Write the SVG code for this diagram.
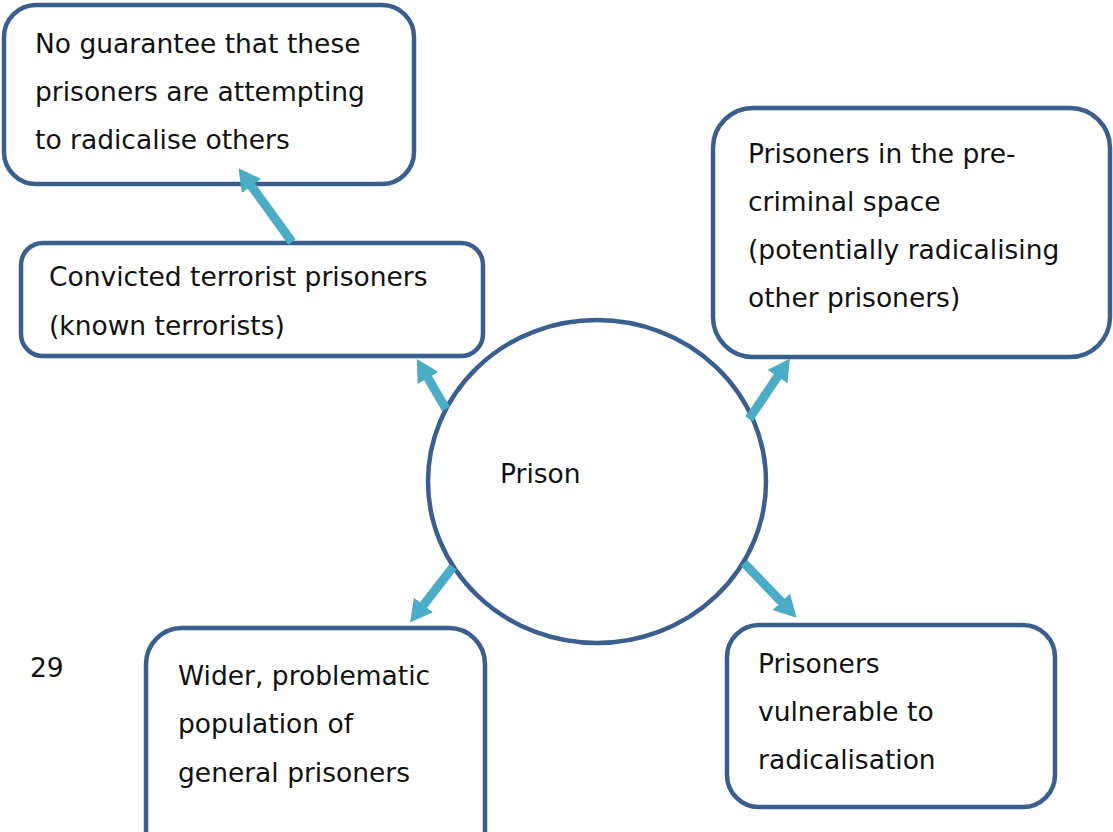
<svg xmlns="http://www.w3.org/2000/svg" width="1113" height="832" viewBox="0 0 1113 832">
<style>
.box{fill:#fff;stroke:#3A5F8F;stroke-width:4.5}
.lbl{font-family:"DejaVu Sans","Verdana",sans-serif;font-size:26.5px;fill:#111}
.arr{stroke:#4BACC6;stroke-width:9;fill:none;marker-end:url(#head)}
</style>
<defs>
<marker id="head" markerUnits="userSpaceOnUse" viewBox="0 0 22 24" refX="0.5" refY="12" markerWidth="22" markerHeight="24" orient="auto">
<path d="M0,0 L22,12 L0,24 z" fill="#4BACC6"/>
</marker>
</defs>
<rect width="1113" height="832" fill="#fff"/>
<g id="prison">
<ellipse class="box" cx="597" cy="481.5" rx="169" ry="161.5"/>
<text class="lbl" x="500" y="483">Prison</text>
</g>
<g id="n-guarantee">
<rect class="box" x="4" y="5" width="410" height="179" rx="32"/>
<text class="lbl" x="35" y="53">No guarantee that these</text>
<text class="lbl" x="35" y="101">prisoners are attempting</text>
<text class="lbl" x="35" y="149">to radicalise others</text>
</g>
<g id="n-convicted">
<rect class="box" x="21" y="243" width="462" height="113" rx="22"/>
<text class="lbl" x="49" y="286">Convicted terrorist prisoners</text>
<text class="lbl" x="49" y="335">(known terrorists)</text>
</g>
<g id="n-precriminal">
<rect class="box" x="713" y="108" width="397" height="249" rx="40"/>
<text class="lbl" x="748" y="163">Prisoners in the pre-</text>
<text class="lbl" x="748" y="211">criminal space</text>
<text class="lbl" x="748" y="259">(potentially radicalising</text>
<text class="lbl" x="748" y="307">other prisoners)</text>
</g>
<g id="n-wider">
<rect class="box" x="146" y="628" width="339" height="240" rx="36"/>
<text class="lbl" x="178" y="685">Wider, problematic</text>
<text class="lbl" x="178" y="733">population of</text>
<text class="lbl" x="178" y="782">general prisoners</text>
</g>
<g id="n-vulnerable">
<rect class="box" x="727" y="625" width="328" height="182" rx="32"/>
<text class="lbl" x="758" y="673">Prisoners</text>
<text class="lbl" x="758" y="721">vulnerable to</text>
<text class="lbl" x="758" y="769">radicalisation</text>
</g>
<g id="page-number">
<text class="lbl" x="30" y="677">29</text>
</g>
<g id="connectors">
<line class="arr" x1="292" y1="242" x2="251.2" y2="185.6"/>
<line class="arr" x1="446" y1="409" x2="427.7" y2="377.6"/>
<line class="arr" x1="749" y1="419" x2="777.8" y2="376.3"/>
<line class="arr" x1="453" y1="567" x2="423.2" y2="605.4"/>
<line class="arr" x1="744" y1="563" x2="781.7" y2="602.2"/>
</g>
</svg>
